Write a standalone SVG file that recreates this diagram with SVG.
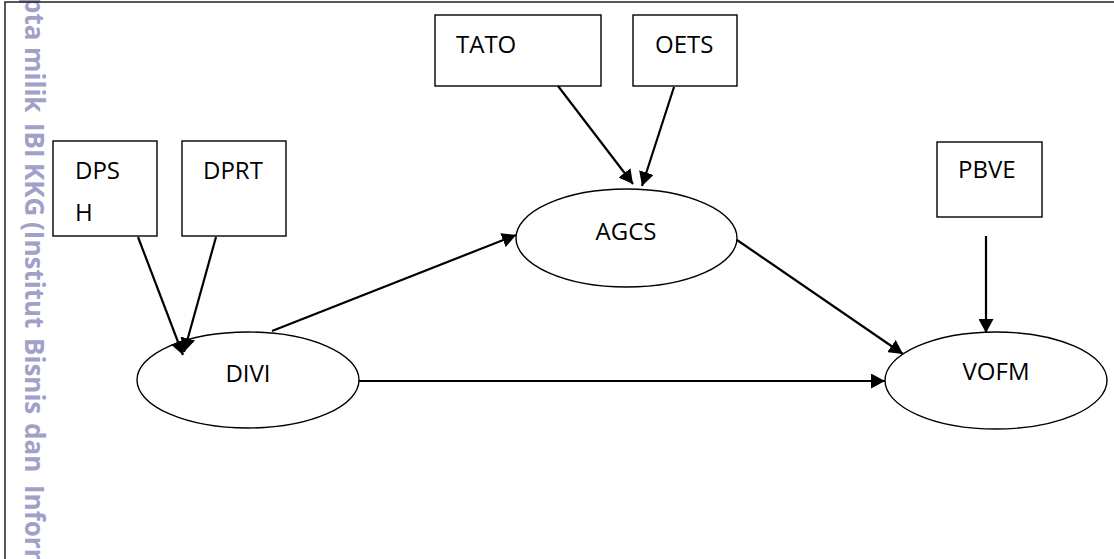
<svg xmlns="http://www.w3.org/2000/svg" width="1114" height="559" viewBox="0 0 1114 559">
<defs>
<style>
.box{fill:#fff;stroke:#000;stroke-width:1.4}
.ell{fill:#fff;stroke:#000;stroke-width:1.4}
.lbl{font-family:"Open Sans","Liberation Sans",sans-serif;font-size:24px;fill:#000}
.mid{text-anchor:middle}
.con{stroke:#000;stroke-width:2.2;fill:none;marker-end:url(#ah)}
.wm{font-family:"Open Sans","DejaVu Sans",sans-serif;font-size:26px;font-weight:bold;fill:#a0a0c8}
</style>
<marker id="ah" markerUnits="userSpaceOnUse" markerWidth="15" markerHeight="15" refX="14" refY="7.5" orient="auto">
<path d="M0,0 L14,7.5 L0,15 z" fill="#000"/>
</marker>
</defs>
<rect width="1114" height="559" fill="#fff"/>
<text class="wm" transform="translate(25,0) rotate(90)"><tspan x="-3">pta</tspan><tspan x="47">milik</tspan><tspan x="123">IBI</tspan><tspan x="163">KKG</tspan><tspan x="222">(Institut</tspan><tspan x="338">Bisnis</tspan><tspan x="423">dan</tspan><tspan x="485">Inform</tspan></text>
<path d="M5,559 V2 H1114" fill="none" stroke="#222" stroke-width="1.5"/>
<g id="DPSH"><rect class="box" x="53" y="141" width="104" height="95"/><text class="lbl" x="75" y="179">DPS</text><text class="lbl" x="75" y="221">H</text></g>
<g id="DPRT"><rect class="box" x="182" y="141" width="104" height="95"/><text class="lbl" x="203" y="179">DPRT</text></g>
<g id="TATO"><rect class="box" x="435" y="15" width="166" height="71"/><text class="lbl" x="456" y="53">TATO</text></g>
<g id="OETS"><rect class="box" x="633" y="15" width="104" height="71"/><text class="lbl" x="655" y="53">OETS</text></g>
<g id="PBVE"><rect class="box" x="937" y="142" width="105" height="75"/><text class="lbl" x="958" y="178">PBVE</text></g>
<g id="DIVI"><ellipse class="ell" cx="248" cy="380" rx="111" ry="48"/><text class="lbl mid" x="248" y="382">DIVI</text></g>
<g id="AGCS"><ellipse class="ell" cx="626.5" cy="238" rx="110.5" ry="49"/><text class="lbl mid" x="626" y="240">AGCS</text></g>
<g id="VOFM"><ellipse class="ell" cx="996" cy="380.5" rx="111" ry="48.5"/><text class="lbl mid" x="996" y="380">VOFM</text></g>
<g id="connectors">
<line class="con" x1="138" y1="237" x2="183" y2="355"/>
<line class="con" x1="216" y1="237" x2="184" y2="352"/>
<line class="con" x1="272" y1="331" x2="516" y2="235"/>
<line class="con" x1="558" y1="86" x2="633" y2="184"/>
<line class="con" x1="674" y1="87" x2="642" y2="186"/>
<line class="con" x1="737" y1="240" x2="903" y2="354"/>
<line class="con" x1="359" y1="381" x2="885" y2="381"/>
<line class="con" x1="986" y1="236" x2="986" y2="333"/>
</g>
</svg>
